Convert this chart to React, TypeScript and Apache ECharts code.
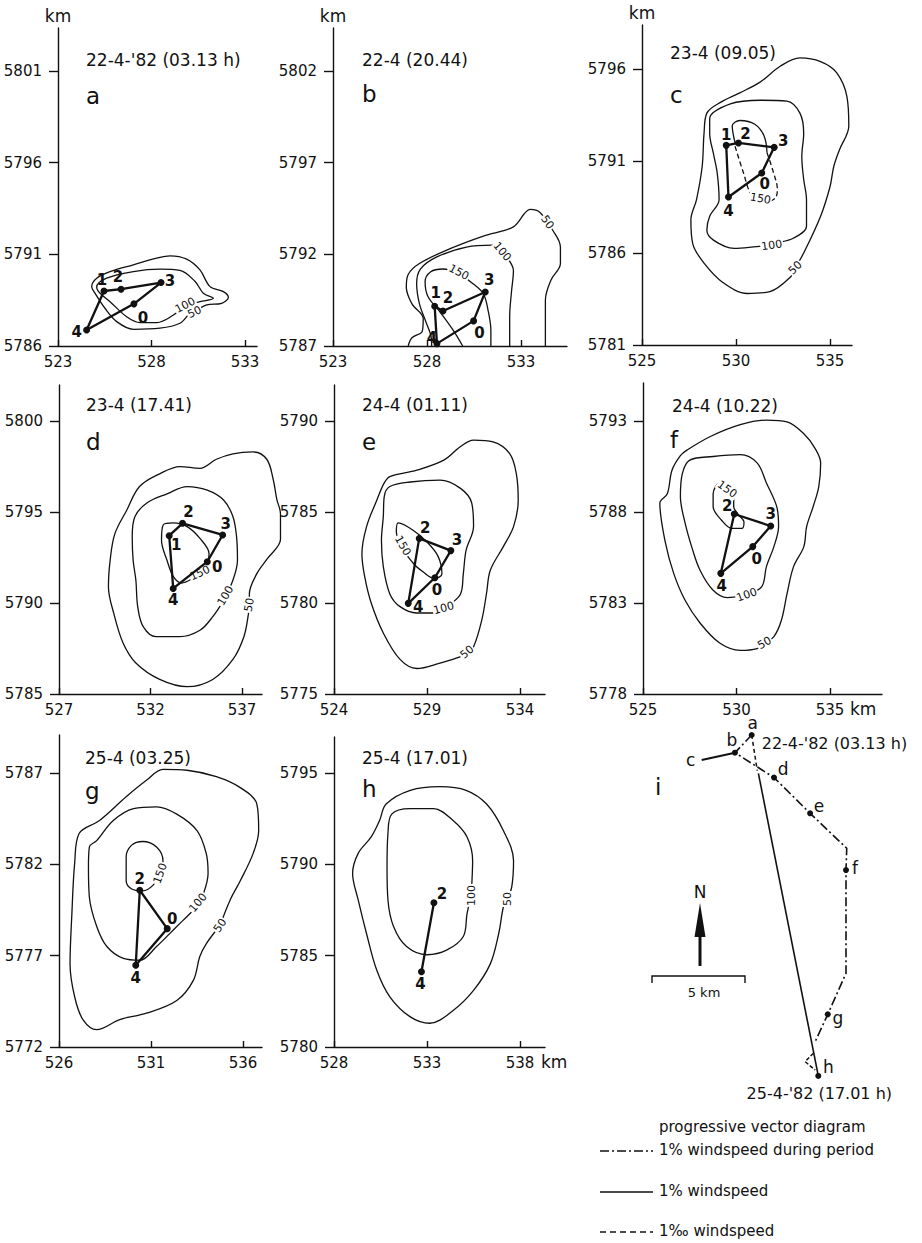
import React, { useEffect, useRef } from "react";
import * as echarts from "echarts";

type Pt = [number, number];
type Buoy = [string, number, number];
type CLabel = [number, number, number, number]; // level, x, y, angle

const FONT = '"DejaVu Sans", "Liberation Sans", sans-serif';
const INK = "#111111";

// order in which the buoys are joined
const RING = ["4", "1", "2", "3", "0", "4"];

// ---------- a: 22-4-'82 (03.13 h)
const buoysA: Buoy[] = [["0", 527.06, 5788.3], ["1", 525.46, 5789.0], ["2", 526.37, 5789.1], ["3", 528.51, 5789.46], ["4", 524.53, 5786.87]];
const a50: Pt[] = [[524.8, 5789.24], [525.07, 5789.7], [525.78, 5790.06], [527.03, 5790.43], [528.28, 5790.79], [528.99, 5790.92], [529.88, 5790.74], [530.59, 5790.15], [531.13, 5789.24], [531.84, 5788.97], [532.11, 5788.66], [531.75, 5788.33], [530.95, 5788.24], [530.24, 5787.88], [529.52, 5787.24], [528.45, 5786.97], [527.03, 5786.91], [526.14, 5787.33], [525.51, 5788.06], [524.98, 5788.88]];
const a100: Pt[] = [[525.07, 5789.21], [525.6, 5789.7], [527.03, 5790.06], [528.45, 5790.19], [529.52, 5790.12], [530.33, 5789.52], [530.77, 5788.88], [531.31, 5788.6], [530.6, 5788.42], [529.79, 5788.19], [529.17, 5787.69], [528.28, 5787.28], [527.39, 5787.28], [526.67, 5787.6], [525.78, 5788.42], [525.25, 5788.88]];
const labelsA: CLabel[] = [[100, 529.8, 5788.22, 28], [50, 530.3, 5787.85, 25]];

// ---------- b: 22-4 (20.44)
const buoysB: Buoy[] = [["0", 530.48, 5788.37], ["1", 528.41, 5789.17], ["2", 528.85, 5788.91], ["3", 531.1, 5789.95], ["4", 528.53, 5787.13]];
const b50: Pt[] = [[527.0, 5787], [527.2, 5787.45], [527.75, 5787.8], [527.8, 5788.5], [527.2, 5789.3], [526.9, 5790.2], [527.0, 5790.9], [527.6, 5791.5], [529.2, 5792.3], [531.0, 5793.0], [532.6, 5793.5], [533.5, 5794.45], [534.0, 5794.3], [534.7, 5793.3], [535.1, 5792.4], [535.1, 5791.5], [534.6, 5790.6], [534.3, 5789.5], [534.3, 5788.2], [534.3, 5787]];
const b100: Pt[] = [[528.25, 5787], [528.2, 5787.6], [527.95, 5788.3], [527.6, 5789.3], [527.45, 5790.4], [527.65, 5791.2], [528.5, 5791.85], [530.1, 5792.4], [531.5, 5792.5], [532.2, 5791.9], [532.6, 5791.1], [532.5, 5790.0], [532.4, 5788.6], [532.4, 5787]];
const b150: Pt[] = [[529.9, 5787], [529.4, 5787.85], [528.7, 5788.85], [528.05, 5789.7], [527.9, 5790.5], [528.2, 5791.05], [528.85, 5791.2], [529.65, 5790.95], [530.45, 5790.4], [531.0, 5789.85], [531.25, 5788.95], [531.4, 5787.85], [531.4, 5787]];
const labelsB: CLabel[] = [[150, 529.7, 5791.02, -28], [100, 532.0, 5792.15, -50], [50, 534.4, 5793.75, -55]];

// ---------- c: 23-4 (09.05)
const buoysC: Buoy[] = [["0", 531.37, 5790.35], ["1", 529.48, 5791.85], ["2", 530.13, 5791.98], ["3", 532.03, 5791.74], ["4", 529.6, 5789.04]];
const c50: Pt[] = [[533.4, 5796.6], [534.5, 5796.4], [535.35, 5795.8], [535.9, 5794.5], [536.0, 5792.9], [535.5, 5791.6], [535.2, 5790.7], [535.0, 5789.6], [534.5, 5788.0], [533.6, 5786.0], [532.9, 5784.7], [531.8, 5783.9], [530.6, 5783.8], [529.3, 5784.4], [528.3, 5785.45], [527.7, 5786.5], [527.6, 5787.8], [527.9, 5788.9], [528.2, 5790.7], [528.3, 5792.5], [528.45, 5793.6], [529.2, 5794.2], [530.2, 5794.7], [531.3, 5795.3], [532.35, 5796.15]];
const c100: Pt[] = [[528.6, 5793.3], [529.7, 5794.1], [531.3, 5794.3], [532.7, 5794.25], [533.4, 5793.6], [533.6, 5792.5], [533.5, 5791.25], [533.6, 5790.0], [533.75, 5788.9], [533.75, 5787.45], [533.05, 5786.8], [532.0, 5786.5], [531.1, 5786.35], [529.9, 5786.25], [528.8, 5786.7], [528.45, 5787.25], [528.6, 5788.0], [529.1, 5788.9], [529.0, 5790.35], [528.8, 5791.4], [528.6, 5792.5]];
const c150Solid: Pt[] = [[529.95, 5791.98], [529.8, 5792.9], [530.2, 5793.2], [531.0, 5793.0], [531.5, 5792.35], [531.65, 5791.45]];
const c150Dashed: Pt[] = [[531.65, 5791.45], [532.0, 5790.35], [532.2, 5789.45], [532.1, 5789.0], [531.7, 5788.8], [530.85, 5789.15], [530.4, 5790.35], [529.95, 5791.8]];
const labelsC: CLabel[] = [[150, 531.3, 5788.95, -10], [100, 531.9, 5786.42, 8], [50, 533.15, 5785.2, 45]];

// ---------- d: 23-4 (17.41)
const buoysD: Buoy[] = [["0", 535.1, 5792.27], ["1", 533.02, 5793.7], ["2", 533.75, 5794.38], ["3", 535.94, 5793.74], ["4", 533.24, 5790.8]];
const d50: Pt[] = [[529.8, 5792.4], [530.05, 5793.8], [530.7, 5795.1], [531.4, 5796.4], [532.5, 5797.1], [533.6, 5797.5], [534.7, 5797.4], [535.6, 5797.9], [536.5, 5798.2], [537.6, 5798.3], [538.35, 5797.9], [538.7, 5796.8], [538.9, 5795.7], [539.1, 5794.9], [539.1, 5793.5], [538.35, 5792.4], [537.8, 5791.6], [537.4, 5790.5], [537.35, 5789.4], [537.1, 5788.15], [536.5, 5786.9], [535.4, 5785.8], [534.0, 5785.4], [532.5, 5785.8], [531.2, 5786.7], [530.5, 5787.8], [530.0, 5789.4], [529.7, 5790.9]];
const d100: Pt[] = [[531.15, 5794.75], [531.8, 5795.5], [532.9, 5796.0], [534.0, 5796.4], [535.1, 5796.2], [536.0, 5795.65], [536.5, 5794.75], [536.7, 5793.65], [536.75, 5792.35], [536.5, 5791.25], [536.0, 5790.15], [535.4, 5789.25], [534.7, 5788.5], [533.6, 5788.15], [532.3, 5788.15], [531.6, 5788.7], [531.3, 5789.8], [531.2, 5791.25], [531.05, 5792.35], [531.0, 5793.65]];
const d150: Pt[] = [[532.7, 5794.3], [533.25, 5794.4], [534.0, 5794.2], [534.7, 5793.55], [535.2, 5792.7], [535.05, 5792.0], [534.3, 5791.35], [533.7, 5791.1], [533.25, 5791.45], [532.9, 5792.35], [532.6, 5793.45]];
const labelsD: CLabel[] = [[150, 534.7, 5791.65, 25], [100, 536.1, 5790.4, 60], [50, 537.4, 5789.9, 80]];

// ---------- e: 24-4 (01.11)
const buoysE: Buoy[] = [["0", 529.42, 5781.39], ["2", 528.58, 5783.55], ["3", 530.28, 5782.88], ["4", 527.99, 5779.98]];
const e50: Pt[] = [[527.0, 5786.95], [528.45, 5787.3], [529.9, 5787.85], [530.8, 5788.6], [531.5, 5788.95], [532.55, 5788.85], [533.45, 5788.2], [533.8, 5787.1], [533.9, 5785.65], [533.65, 5784.2], [533.1, 5783.1], [532.4, 5781.8], [532.2, 5780.55], [531.95, 5779.1], [531.5, 5777.6], [530.8, 5777.05], [529.7, 5776.7], [528.45, 5776.4], [527.55, 5776.9], [526.65, 5778.35], [526.0, 5780.0], [525.65, 5781.45], [525.5, 5782.7], [525.75, 5784.2], [526.3, 5785.65], [526.7, 5786.6]];
const e100: Pt[] = [[527.0, 5786.4], [528.1, 5786.65], [529.7, 5786.75], [530.8, 5786.3], [531.4, 5785.5], [531.5, 5784.2], [531.1, 5782.9], [530.95, 5781.6], [530.8, 5780.5], [530.2, 5779.9], [529.3, 5779.45], [528.45, 5779.45], [527.55, 5779.8], [527.0, 5780.5], [526.65, 5782.0], [526.55, 5783.45], [526.65, 5784.75], [526.7, 5785.85]];
const e150: Pt[] = [[527.45, 5784.4], [528.25, 5784.0], [529.0, 5783.35], [529.6, 5782.55], [529.8, 5781.6], [529.4, 5781.35], [528.8, 5781.7], [528.25, 5782.2], [527.7, 5783.1], [527.35, 5783.9]];
const labelsE: CLabel[] = [[150, 527.7, 5783.15, -60], [100, 529.9, 5779.72, 15], [50, 531.15, 5777.3, 40]];

// ---------- f: 24-4 (10.22)
const buoysF: Buoy[] = [["0", 530.87, 5786.1], ["2", 529.88, 5787.89], ["3", 531.83, 5787.23], ["4", 529.16, 5784.63]];
const f50: Pt[] = [[527.35, 5791.4], [528.6, 5792.15], [530.2, 5792.8], [531.6, 5793.05], [532.7, 5792.95], [533.6, 5792.3], [534.2, 5791.5], [534.5, 5790.7], [534.4, 5789.4], [534.1, 5788.3], [533.75, 5787.2], [533.6, 5786.1], [533.05, 5785.0], [532.7, 5783.5], [532.4, 5782.05], [532.0, 5781.15], [531.1, 5780.5], [530.2, 5780.4], [529.1, 5780.8], [528.05, 5781.9], [527.25, 5783.15], [526.65, 5784.6], [526.2, 5786.3], [525.9, 5788.5], [526.3, 5789.0], [526.55, 5790.3], [527.0, 5791.1]];
const f100: Pt[] = [[527.5, 5790.85], [528.75, 5791.05], [530.2, 5791.15], [531.1, 5790.7], [531.6, 5789.6], [532.15, 5788.3], [532.25, 5787.2], [532.0, 5786.1], [531.6, 5785.0], [531.35, 5783.9], [530.55, 5783.45], [529.5, 5783.3], [528.75, 5783.7], [528.05, 5784.8], [527.6, 5786.1], [527.25, 5787.4], [527.0, 5788.85], [527.1, 5790.1]];
const f150: Pt[] = [[529.1, 5789.6], [528.75, 5789.0], [528.75, 5788.3], [529.2, 5787.55], [529.75, 5787.1], [530.3, 5787.1], [530.4, 5787.45], [530.1, 5787.85], [529.85, 5788.3], [529.85, 5788.85]];
const labelsF: CLabel[] = [[150, 529.5, 5789.25, -35], [100, 530.55, 5783.45, 20], [50, 531.5, 5780.8, 30]];

// ---------- g: 25-4 (03.25)
const buoysG: Buoy[] = [["0", 531.88, 5778.48], ["2", 530.39, 5780.58], ["4", 530.17, 5776.48]];
const g50: Pt[] = [[527.1, 5783.7], [528.2, 5784.4], [529.65, 5785.7], [530.75, 5786.6], [531.65, 5787.2], [532.95, 5787.15], [534.55, 5786.8], [535.85, 5786.2], [536.75, 5785.3], [536.85, 5783.85], [536.55, 5782.6], [535.85, 5781.1], [535.3, 5780.05], [534.75, 5778.65], [534.0, 5777.65], [533.65, 5776.95], [533.3, 5775.65], [532.4, 5774.55], [530.75, 5773.85], [529.3, 5773.5], [528.05, 5772.95], [527.3, 5773.5], [526.85, 5774.75], [526.6, 5776.55], [526.7, 5779.3], [526.85, 5782.05]];
const g100: Pt[] = [[528.05, 5783.3], [528.95, 5784.4], [530.05, 5785.05], [531.3, 5785.15], [532.4, 5784.75], [533.5, 5783.85], [534.0, 5782.6], [534.1, 5781.5], [533.85, 5780.4], [533.3, 5779.5], [532.4, 5778.6], [531.3, 5777.5], [530.4, 5776.75], [529.5, 5776.85], [528.6, 5777.5], [528.05, 5778.6], [527.65, 5780.2], [527.6, 5781.85], [527.65, 5782.95]];
const g150: Pt[] = [[529.65, 5781.75], [529.65, 5782.4], [529.95, 5783.05], [530.55, 5783.25], [531.3, 5782.95], [531.65, 5782.2], [531.5, 5781.5], [531.1, 5780.85], [530.55, 5780.55], [529.95, 5780.65], [529.65, 5781.1]];
const labelsG: CLabel[] = [[150, 531.5, 5781.5, 70], [100, 533.55, 5779.9, 50], [50, 534.75, 5778.65, 55]];

// ---------- h: 25-4 (17.01)
const buoysH: Buoy[] = [["2", 533.37, 5787.9], ["4", 532.7, 5784.12]];
const h50: Pt[] = [[530.8, 5793.3], [532.1, 5794.05], [533.7, 5794.25], [535.1, 5794.05], [536.2, 5793.3], [537.1, 5791.85], [537.65, 5790.2], [537.55, 5788.75], [537.1, 5787.65], [536.85, 5786.2], [536.4, 5784.55], [535.5, 5783.1], [534.4, 5782.0], [533.15, 5781.3], [532.1, 5781.65], [531.0, 5782.75], [530.3, 5784.2], [529.75, 5786.2], [529.3, 5788.05], [529.0, 5789.5], [529.3, 5790.6], [530.0, 5791.5], [530.45, 5792.4]];
const h100: Pt[] = [[531.1, 5792.75], [532.1, 5793.05], [533.35, 5793.05], [534.4, 5792.4], [535.15, 5791.5], [535.45, 5790.2], [535.4, 5788.75], [535.15, 5787.3], [534.95, 5786.05], [534.05, 5785.3], [533.0, 5785.05], [531.9, 5785.5], [531.2, 5786.6], [530.9, 5788.05], [530.85, 5789.85], [530.9, 5791.7]];
const labelsH: CLabel[] = [[100, 535.38, 5788.3, 90], [50, 537.3, 5788.1, 90]];

// ---------- i: progressive vector diagram (km east / north of station a)
const pvdDashDot: Pt[] = [[0, 0], [-0.9, -0.95], [1.2, -2.29], [3.14, -4.21], [5.11, -6.09], [5.07, -7.26], [5.07, -12.81], [4.09, -15.02], [3.41, -16.49]];
const pvdSolidShort: Pt[] = [[-2.69, -1.34], [-0.9, -0.95]];
const pvdSolidLong: Pt[] = [[0.36, -2.06], [3.58, -18.33]];
const pvdDashedTop: Pt[] = [[0, 0], [0.3, -1.92]];
const pvdDashedEnd: Pt[] = [[3.32, -17.11], [2.87, -17.56], [3.41, -18.01]];
const pvdStations: Buoy[] = [["a", 0, 0], ["b", -0.9, -0.95], ["c", -2.69, -1.34], ["d", 1.2, -2.29], ["e", 3.14, -4.21], ["f", 5.07, -7.26], ["g", 4.09, -15.02], ["h", 3.58, -18.33]];

type Contour = { level: number; pts: Pt[]; open?: boolean; dashed?: boolean };
type Panel = {
  letter: string;
  title: string;
  titleAt: Pt;
  letterAt: Pt;
  grid: { left: number; top: number; width: number; height: number };
  plotWidth: number; // drawing area may run past the end of the x axis
  x: Pt;
  y: Pt;
  xTicks: number[];
  yTicks: number[];
  km: boolean;
  contours: Contour[];
  labels: CLabel[];
  buoys: Buoy[];
  offsets: Record<string, Pt>;
};

const panels: Panel[] = [
  {
    letter: "a", title: "22-4-'82 (03.13 h)", titleAt: [86, 60], letterAt: [86, 96],
    grid: { left: 58, top: 28, width: 199, height: 318 }, plotWidth: 199, x: [523, 533.64], y: [5786, 5803.35],
    xTicks: [523, 528, 533], yTicks: [5786, 5791, 5796, 5801], km: true,
    contours: [{ level: 50, pts: a50 }, { level: 100, pts: a100 }], labels: labelsA, buoys: buoysA,
    offsets: { "1": [-2, -11], "2": [-3, -12], "3": [9, -2], "0": [9, 14], "4": [-10, 2] },
  },
  {
    letter: "b", title: "22-4 (20.44)", titleAt: [362, 60], letterAt: [362, 94],
    grid: { left: 333, top: 28, width: 234, height: 318 }, plotWidth: 234, x: [523, 535.45], y: [5787, 5804.35],
    xTicks: [523, 528, 533], yTicks: [5787, 5792, 5797, 5802], km: true,
    contours: [{ level: 50, pts: b50, open: true }, { level: 100, pts: b100, open: true }, { level: 150, pts: b150, open: true }],
    labels: labelsB, buoys: buoysB,
    offsets: { "1": [1, -13], "2": [5, -13], "3": [4, -12], "0": [6, 12], "4": [-5, -6] },
  },
  {
    letter: "c", title: "23-4 (09.05)", titleAt: [670, 53], letterAt: [670, 95],
    grid: { left: 642, top: 25, width: 210, height: 320 }, plotWidth: 210, x: [525, 536.17], y: [5781, 5798.39],
    xTicks: [525, 530, 535], yTicks: [5781, 5786, 5791, 5796], km: true,
    contours: [{ level: 50, pts: c50 }, { level: 100, pts: c100 }, { level: 150, pts: c150Solid, open: true }, { level: 150, pts: c150Dashed, open: true, dashed: true }],
    labels: labelsC, buoys: buoysC,
    offsets: { "1": [0, -10], "2": [7, -9], "3": [9, -6], "0": [3, 11], "4": [0, 14] },
  },
  {
    letter: "d", title: "23-4 (17.41)", titleAt: [86, 405], letterAt: [86, 442],
    grid: { left: 59, top: 385, width: 203, height: 309 }, plotWidth: 240, x: [527, 538.09], y: [5785, 5801.98],
    xTicks: [527, 532, 537], yTicks: [5785, 5790, 5795, 5800], km: false,
    contours: [{ level: 50, pts: d50 }, { level: 100, pts: d100 }, { level: 150, pts: d150 }],
    labels: labelsD, buoys: buoysD,
    offsets: { "1": [7, 9], "2": [6, -11], "3": [3, -11], "0": [10, 5], "4": [0, 12] },
  },
  {
    letter: "e", title: "24-4 (01.11)", titleAt: [362, 405], letterAt: [362, 442],
    grid: { left: 334, top: 385, width: 211, height: 309 }, plotWidth: 211, x: [524, 535.34], y: [5775, 5791.98],
    xTicks: [524, 529, 534], yTicks: [5775, 5780, 5785, 5790], km: false,
    contours: [{ level: 50, pts: e50 }, { level: 100, pts: e100 }, { level: 150, pts: e150 }],
    labels: labelsE, buoys: buoysE,
    offsets: { "2": [6, -10], "3": [6, -11], "0": [2, 12], "4": [10, 4] },
  },
  {
    letter: "f", title: "24-4 (10.22)", titleAt: [672, 406], letterAt: [670, 440],
    grid: { left: 643, top: 383, width: 239, height: 311 }, plotWidth: 239, x: [525, 537.78], y: [5778, 5795.09],
    xTicks: [525, 530, 535], yTicks: [5778, 5783, 5788, 5793], km: false,
    contours: [{ level: 50, pts: f50 }, { level: 100, pts: f100 }, { level: 150, pts: f150 }],
    labels: labelsF, buoys: buoysF,
    offsets: { "2": [-7, -8], "3": [0, -12], "0": [4, 12], "4": [1, 13] },
  },
  {
    letter: "g", title: "25-4 (03.25)", titleAt: [85, 758], letterAt: [85, 791],
    grid: { left: 59, top: 735, width: 203, height: 312 }, plotWidth: 203, x: [526, 537.03], y: [5772, 5789.08],
    xTicks: [526, 531, 536], yTicks: [5772, 5777, 5782, 5787], km: false,
    contours: [{ level: 50, pts: g50 }, { level: 100, pts: g100 }, { level: 150, pts: g150 }],
    labels: labelsG, buoys: buoysG,
    offsets: { "2": [0, -11], "0": [5, -10], "4": [0, 13] },
  },
  {
    letter: "h", title: "25-4 (17.01)", titleAt: [362, 758], letterAt: [362, 789],
    grid: { left: 334, top: 737, width: 211, height: 310 }, plotWidth: 211, x: [528, 539.34], y: [5780, 5796.97],
    xTicks: [528, 533, 538], yTicks: [5780, 5785, 5790, 5795], km: false,
    contours: [{ level: 50, pts: h50 }, { level: 100, pts: h100 }],
    labels: labelsH, buoys: buoysH,
    offsets: { "2": [8, -9], "4": [-1, 12] },
  },
];

function segDist(p: Pt, a: Pt, b: Pt): number {
  const dx = b[0] - a[0];
  const dy = b[1] - a[1];
  const l2 = dx * dx + dy * dy || 1e-9;
  let t = ((p[0] - a[0]) * dx + (p[1] - a[1]) * dy) / l2;
  t = Math.max(0, Math.min(1, t));
  const qx = a[0] + t * dx - p[0];
  const qy = a[1] + t * dy - p[1];
  return Math.sqrt(qx * qx + qy * qy);
}

// Close a contour ring, starting and ending at its label anchor so the seam sits under the label
function closeRing(pts: Pt[], anchor?: Pt): Pt[] {
  if (!anchor) return [...pts, pts[0]];
  const n = pts.length;
  let best = 0;
  let bestD = Infinity;
  for (let i = 0; i < n; i++) {
    const d = segDist(anchor, pts[i], pts[(i + 1) % n]);
    if (d < bestD) {
      bestD = d;
      best = i;
    }
  }
  const out: Pt[] = [anchor];
  for (let k = 1; k <= n; k++) out.push(pts[(best + k) % n]);
  out.push(anchor);
  return out;
}

function buildOption() {
  const grid: any[] = [];
  const xAxis: any[] = [];
  const yAxis: any[] = [];
  const series: any[] = [];
  const graphic: any[] = [];

  const txt = (text: string, x: number, y: number, size: number, align = "left") => ({
    type: "text",
    x,
    y,
    silent: true,
    style: {
      text,
      fill: INK,
      font: `${size}px ${FONT}`,
      align,
      verticalAlign: "middle",
      textAlign: align,
      textVerticalAlign: "middle",
    },
  });

  const plain = (v: number) => String(v);
  const hidden = { color: "rgba(0,0,0,0)", opacity: 1 };

  panels.forEach((p) => {
    const gi = grid.length;
    grid.push({ ...p.grid, containLabel: false });
    xAxis.push({
      type: "value",
      gridIndex: gi,
      min: p.x[0],
      max: p.x[1],
      axisLine: { show: true, onZero: false, lineStyle: { color: INK, width: 1.4 } },
      axisTick: { show: true, inside: true, length: 6, customValues: p.xTicks, lineStyle: { color: INK, width: 1.4 } },
      axisLabel: { show: true, customValues: p.xTicks, formatter: plain, margin: 8, color: INK, fontSize: 15, fontFamily: FONT },
      splitLine: { show: false },
    });
    yAxis.push({
      type: "value",
      gridIndex: gi,
      min: p.y[0],
      max: p.y[1],
      name: p.km ? "km" : "",
      nameLocation: "end",
      nameGap: 4,
      nameTextStyle: { color: INK, fontSize: 17, fontFamily: FONT, align: "center", verticalAlign: "bottom" },
      axisLine: { show: true, onZero: false, lineStyle: { color: INK, width: 1.4 } },
      axisTick: { show: true, inside: false, length: 9, customValues: p.yTicks, lineStyle: { color: INK, width: 1.4 } },
      axisLabel: { show: true, customValues: p.yTicks, formatter: plain, margin: 16, color: INK, fontSize: 15, fontFamily: FONT },
      splitLine: { show: false },
    });

    // an unframed grid with the same scale, wide enough for isolines that run past the x axis
    let ci = gi;
    if (p.plotWidth > p.grid.width) {
      ci = grid.length;
      const kmPerPx = (p.x[1] - p.x[0]) / p.grid.width;
      grid.push({ ...p.grid, width: p.plotWidth, containLabel: false });
      xAxis.push({ type: "value", gridIndex: ci, min: p.x[0], max: p.x[0] + p.plotWidth * kmPerPx, show: false, splitLine: { show: false } });
      yAxis.push({ type: "value", gridIndex: ci, min: p.y[0], max: p.y[1], show: false, splitLine: { show: false } });
    }

    // isolines of concentration
    p.contours.forEach((c) => {
      const lab = p.labels.find((l) => l[0] === c.level);
      const data = c.open ? c.pts : closeRing(c.pts, lab ? [lab[1], lab[2]] : undefined);
      series.push({
        type: "line",
        xAxisIndex: ci,
        yAxisIndex: ci,
        data,
        smooth: 0.35,
        symbol: "none",
        clip: false,
        silent: true,
        z: 2,
        lineStyle: { color: INK, width: 1.3, type: c.dashed ? [5, 3] : "solid" },
      });
    });

    // isoline values written on the lines
    series.push({
      type: "scatter",
      xAxisIndex: ci,
      yAxisIndex: ci,
      silent: true,
      clip: false,
      symbolSize: 1,
      itemStyle: hidden,
      z: 4,
      data: p.labels.map((l) => ({
        value: [l[1], l[2]],
        label: {
          show: true,
          position: "inside",
          formatter: String(l[0]),
          rotate: l[3],
          color: INK,
          opacity: 1,
          textBorderWidth: 0,
          fontSize: 11,
          fontFamily: FONT,
          backgroundColor: "#fff",
          padding: [0, 1],
        },
      })),
    });

    // buoy polygon
    const byId: Record<string, Pt> = {};
    p.buoys.forEach((b) => (byId[b[0]] = [b[1], b[2]]));
    const ring = RING.filter((id) => byId[id]).map((id) => byId[id]);
    series.push({
      type: "line",
      xAxisIndex: gi,
      yAxisIndex: gi,
      data: ring,
      symbol: "none",
      clip: false,
      silent: true,
      z: 5,
      lineStyle: { color: INK, width: 2.3 },
    });
    series.push({
      type: "scatter",
      xAxisIndex: gi,
      yAxisIndex: gi,
      silent: true,
      clip: false,
      symbolSize: 7,
      itemStyle: { color: INK, opacity: 1 },
      z: 6,
      data: p.buoys.map((b) => ({
        value: [b[1], b[2]],
        label: {
          show: true,
          position: "inside",
          offset: p.offsets[b[0]] || [0, -10],
          formatter: b[0],
          color: INK,
          opacity: 1,
          textBorderWidth: 0,
          fontSize: 15,
          fontWeight: "bold",
          fontFamily: FONT,
        },
      })),
    });

    graphic.push(txt(p.title, p.titleAt[0], p.titleAt[1], 17));
    graphic.push(txt(p.letter, p.letterAt[0], p.letterAt[1], 23));
  });

  // ---------- panel i
  const gi = grid.length;
  grid.push({ left: 677.3, top: 716.4, width: 223.2, height: 390.6 });
  xAxis.push({ type: "value", gridIndex: gi, min: -4, max: 8, show: false, splitLine: { show: false } });
  yAxis.push({ type: "value", gridIndex: gi, min: -20, max: 1, show: false, splitLine: { show: false } });
  const pvdLine = (data: Pt[], type: any, width: number) => ({
    type: "line",
    xAxisIndex: gi,
    yAxisIndex: gi,
    data,
    symbol: "none",
    clip: false,
    silent: true,
    lineStyle: { color: INK, width, type },
  });
  series.push(pvdLine(pvdDashDot, [9, 3, 2, 3], 1.6));
  series.push(pvdLine(pvdSolidShort, "solid", 2));
  series.push(pvdLine(pvdSolidLong, "solid", 1.6));
  series.push(pvdLine(pvdDashedTop, [4, 3], 1.5));
  series.push(pvdLine(pvdDashedEnd, [4, 2], 1.5));

  const stOffsets: Record<string, Pt> = { a: [1, -12], b: [-3, -13], c: [-11, 0], d: [9, -9], e: [9, -7], f: [9, -2], g: [10, 4], h: [10, -9] };
  series.push({
    type: "scatter",
    xAxisIndex: gi,
    yAxisIndex: gi,
    silent: true,
    clip: false,
    z: 6,
    data: pvdStations.map((s) => ({
      value: [s[1], s[2]],
      symbolSize: s[0] === "c" ? 1 : 6,
      itemStyle: s[0] === "c" ? hidden : { color: INK, opacity: 1 },
      label: {
        show: true,
        position: "inside",
        offset: stOffsets[s[0]],
        formatter: s[0],
        color: INK,
        opacity: 1,
        textBorderWidth: 0,
        fontSize: 17,
        fontFamily: FONT,
      },
    })),
  });
  // start and end dates of the drift track
  const first = pvdStations[0];
  const last = pvdStations[pvdStations.length - 1];
  const dateLabel = (text: string, align: string, offset: Pt) => ({
    show: true,
    position: "inside",
    align,
    offset,
    formatter: text,
    color: INK,
    opacity: 1,
    textBorderWidth: 0,
    fontSize: 16,
    fontFamily: FONT,
  });
  series.push({
    type: "scatter",
    xAxisIndex: gi,
    yAxisIndex: gi,
    silent: true,
    clip: false,
    symbolSize: 1,
    itemStyle: hidden,
    z: 6,
    data: [
      { value: [first[1], first[2]], label: dateLabel("22-4-'82 (03.13 h)", "left", [10, 8]) },
      { value: [last[1], last[2]], label: dateLabel("25-4-'82 (17.01 h)", "center", [1, 18]) },
    ],
  });

  graphic.push(txt("i", 655, 787, 23));
  graphic.push(txt("km", 850, 709, 17));
  graphic.push(txt("km", 541, 1062, 17));

  // north arrow
  graphic.push(txt("N", 700, 892, 17, "center"));
  graphic.push({ type: "line", silent: true, shape: { x1: 700, y1: 933, x2: 700, y2: 966 }, style: { stroke: INK, lineWidth: 3 } });
  graphic.push({ type: "polygon", silent: true, shape: { points: [[700, 903], [694.5, 937], [705.5, 937]] }, style: { fill: INK } });

  // 5 km scale bar
  graphic.push({ type: "polyline", silent: true, shape: { points: [[652, 983], [652, 976], [745, 976], [745, 983]] }, style: { stroke: INK, lineWidth: 1.4, fill: null } });
  graphic.push(txt("5 km", 704, 992, 13, "center"));

  // legend
  graphic.push(txt("progressive vector diagram", 659, 1127, 15));
  graphic.push({ type: "line", silent: true, shape: { x1: 600, y1: 1151, x2: 653, y2: 1151 }, style: { stroke: INK, lineWidth: 1.5, lineDash: [9, 3, 2, 3] } });
  graphic.push(txt("1% windspeed during period", 659, 1150, 15));
  graphic.push({ type: "line", silent: true, shape: { x1: 600, y1: 1192, x2: 653, y2: 1192 }, style: { stroke: INK, lineWidth: 1.5 } });
  graphic.push(txt("1% windspeed", 659, 1191, 15));
  graphic.push({ type: "line", silent: true, shape: { x1: 600, y1: 1232, x2: 653, y2: 1232 }, style: { stroke: INK, lineWidth: 1.5, lineDash: [6, 4] } });
  graphic.push(txt("1‰ windspeed", 659, 1231, 15));

  return {
    animation: false,
    backgroundColor: "#ffffff",
    textStyle: { fontFamily: FONT },
    grid,
    xAxis,
    yAxis,
    series,
    graphic,
  };
}

export default function App() {
  const ref = useRef<HTMLDivElement>(null);
  useEffect(() => {
    if (!ref.current) return;
    const chart = echarts.init(ref.current, null, { renderer: "svg" });
    chart.setOption(buildOption() as any);
    return () => chart.dispose();
  }, []);
  return (
    <div
      ref={ref}
      style={{ position: "absolute", left: 0, top: 0, width: 922, height: 1243, background: "#fff" }}
    />
  );
}
